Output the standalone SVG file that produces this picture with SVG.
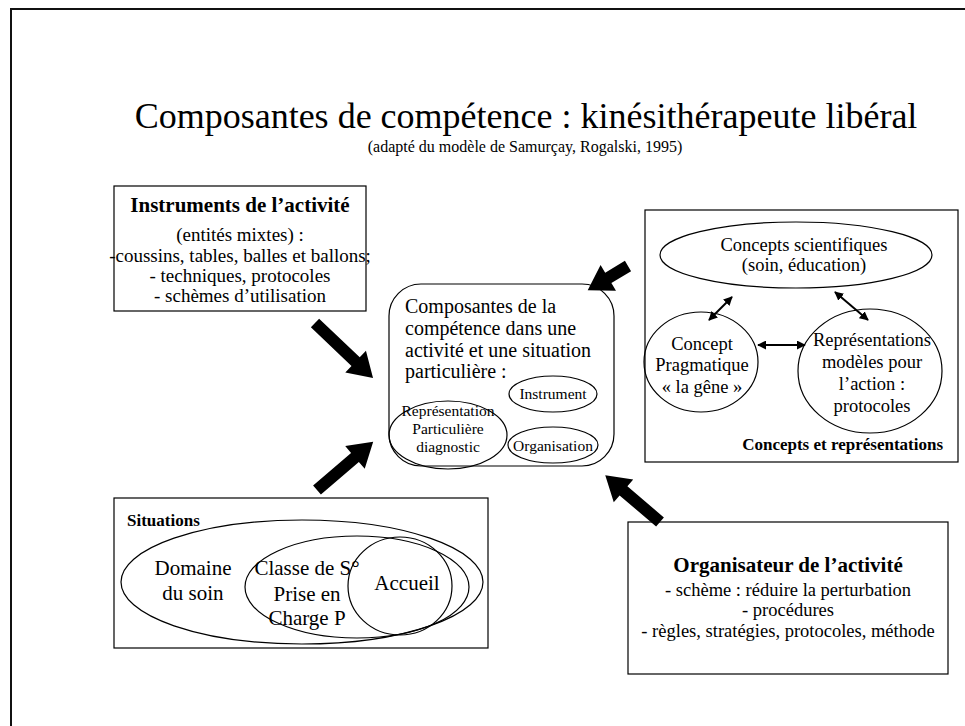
<svg xmlns="http://www.w3.org/2000/svg" width="965" height="726" viewBox="0 0 965 726">
<style>
text{font-family:"Liberation Serif","Times New Roman",serif;fill:#000}
.b{font-weight:bold}
.c{text-anchor:middle}
.s{fill:#fff;stroke:#000;stroke-width:1.2}
.n{fill:none;stroke:#000;stroke-width:1.2}
.big{fill:#000;stroke:none}
.thin{stroke:#000;stroke-width:2;fill:none;marker-start:url(#ah);marker-end:url(#ah)}
</style>
<defs>
<marker id="ah" viewBox="0 0 10 10" refX="9" refY="5" markerWidth="4.5" markerHeight="4.5" orient="auto-start-reverse" markerUnits="strokeWidth">
<path d="M0,0 L10,5 L0,10 Z" fill="#000"/>
</marker>
</defs>
<rect width="965" height="726" fill="#fff"/>
<rect x="11" y="9" width="1000" height="1000" fill="none" stroke="#111" stroke-width="2"/>

<g id="title">
<text class="c" x="526" y="128" font-size="36">Composantes de compétence : kinésithérapeute libéral</text>
<text class="c" x="525" y="152" font-size="16">(adapté du modèle de Samurçay, Rogalski, 1995)</text>
</g>

<g id="instruments">
<rect class="s" x="114" y="186" width="252" height="125"/>
<text class="c b" x="240" y="212" font-size="21">Instruments de l’activité</text>
<text class="c" x="240" y="241" font-size="19">(entités mixtes) :</text>
<text class="c" x="240" y="262" font-size="19">-coussins, tables, balles et ballons;</text>
<text class="c" x="240" y="282" font-size="19">- techniques,  protocoles</text>
<text class="c" x="240" y="302" font-size="19">- schèmes d’utilisation</text>
</g>

<g id="competence">
<rect class="s" x="389" y="284" width="225" height="182" rx="32" ry="32"/>
<text x="405" y="313" font-size="20">Composantes de la</text>
<text x="405" y="335" font-size="20">compétence dans une</text>
<text x="405" y="357" font-size="20">activité et une situation</text>
<text x="405" y="378" font-size="20">particulière :</text>
<g id="representation">
<ellipse class="n" cx="448" cy="435" rx="59" ry="34"/>
<text class="c" x="448" y="416" font-size="15.5">Représentation</text>
<text class="c" x="448" y="434" font-size="15.5">Particulière</text>
<text class="c" x="448" y="452" font-size="15.5">diagnostic</text>
</g>
<g id="instrument">
<ellipse class="n" cx="553" cy="394" rx="44" ry="18"/>
<text class="c" x="553" y="399" font-size="15.5">Instrument</text>
</g>
<g id="organisation">
<ellipse class="n" cx="553" cy="445" rx="45" ry="18"/>
<text class="c" x="553" y="451" font-size="15.5">Organisation</text>
</g>
</g>

<g id="concepts">
<rect class="s" x="645" y="210" width="313" height="252"/>
<g id="scientifiques">
<ellipse class="n" cx="796" cy="255" rx="136" ry="33"/>
<text class="c" x="804" y="251" font-size="18.5">Concepts scientifiques</text>
<text class="c" x="804" y="271" font-size="18.5">(soin,  éducation)</text>
</g>
<g id="pragmatique">
<ellipse class="n" cx="701" cy="362" rx="57" ry="50"/>
<text class="c" x="702" y="350" font-size="18.5">Concept</text>
<text class="c" x="702" y="371" font-size="18.5">Pragmatique</text>
<text class="c" x="702" y="393" font-size="18.5">« la gêne »</text>
</g>
<g id="modeles">
<ellipse class="n" cx="870" cy="371" rx="72" ry="62"/>
<text class="c" x="872" y="346" font-size="18.5">Représentations</text>
<text class="c" x="872" y="368" font-size="18.5">modèles pour</text>
<text class="c" x="872" y="390" font-size="18.5">l’action :</text>
<text class="c" x="872" y="412" font-size="18.5">protocoles</text>
</g>
<text class="b" x="943" y="450" font-size="17" text-anchor="end">Concepts et représentations</text>
</g>

<g id="situations">
<rect class="s" x="114" y="498" width="374" height="150"/>
<text class="b" x="127" y="526" font-size="17">Situations</text>
<ellipse class="n" cx="302" cy="582" rx="181" ry="62"/>
<ellipse class="n" cx="357" cy="587" rx="112" ry="51"/>
<ellipse class="n" cx="400" cy="586" rx="52" ry="49"/>
<text class="c" x="193" y="575" font-size="21">Domaine</text>
<text class="c" x="193" y="600" font-size="21">du soin</text>
<text class="c" x="307" y="575" font-size="21">Classe de S°</text>
<text class="c" x="307" y="601" font-size="21">Prise en</text>
<text class="c" x="307" y="625" font-size="21">Charge P</text>
<text class="c" x="407" y="590" font-size="21">Accueil</text>
</g>

<g id="organisateur">
<rect class="s" x="628" y="522" width="320" height="152"/>
<text class="c b" x="788" y="572" font-size="21">Organisateur de l’activité</text>
<text class="c" x="788" y="596" font-size="18.5">- schème : réduire la perturbation</text>
<text class="c" x="788" y="616" font-size="18.5">- procédures</text>
<text class="c" x="788" y="637" font-size="18.5">- règles, stratégies, protocoles,  méthode</text>
</g>

<g id="connectors">
<path class="big" transform="translate(315,323) rotate(43.5)" d="M0,-6 H56 V-15 L80,0 L56,15 V6 H0 Z"/>
<path class="big" transform="translate(317,490) rotate(-40.6)" d="M0,-6 H50 V-15 L74,0 L50,15 V6 H0 Z"/>
<path class="big" transform="translate(628,266) rotate(149)" d="M0,-6 H23 V-15 L47,0 L23,15 V6 H0 Z"/>
<path class="big" transform="translate(660,522) rotate(-139.5)" d="M0,-6 H48 V-15 L72,0 L48,15 V6 H0 Z"/>
<line class="thin" x1="709" y1="320" x2="732" y2="297"/>
<line class="thin" x1="835" y1="292" x2="868" y2="320"/>
<line class="thin" x1="758" y1="345" x2="805" y2="345"/>
</g>
</svg>
